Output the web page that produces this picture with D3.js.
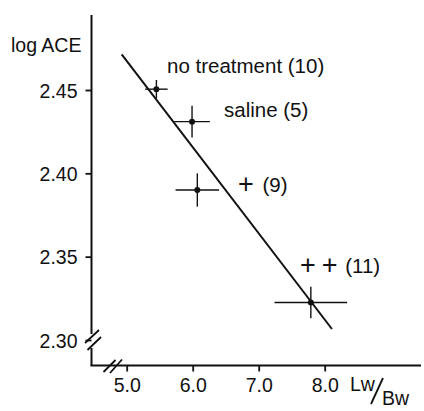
<!DOCTYPE html>
<html>
<head>
<meta charset="utf-8">
<script src="https://cdn.jsdelivr.net/npm/d3@7"></script>
<style>
  html, body { margin: 0; padding: 0; background: #fff; }
  svg { display: block; }
  text { font-family: "Liberation Sans", Arial, sans-serif; fill: #111; }
</style>
</head>
<body>
<div id="chart"></div>
<script>
// ---- data ----
const groups = ["no treatment (10)", "saline (5)", "(9)", "(11)"];
const lwbw = [5.45, 5.99, 6.07, 7.79];
const logACE = [2.4505, 2.431, 2.390, 2.3225];
const lwbwErr = [0.17, 0.27, 0.33, 0.55];
const logACEErr = [0.0055, 0.0095, 0.010, 0.0095];
const lineX = [4.924, 8.11];
const lineY = [2.4714, 2.3066];
const xTicks = [5.0, 6.0, 7.0, 8.0];
const yTicks = [2.30, 2.35, 2.40, 2.45];

const W = 424, H = 411;
const svg = d3.select("#chart").append("svg").attr("width", W).attr("height", H);

const x = d3.scaleLinear().domain([5.0, 8.0]).range([126.7, 324.7]);
const y = d3.scaleLinear().domain([2.30, 2.45]).range([340, 90]);

const axisX = 91.5, axisBottom = 365.5, axisTop = 15;

// y axis line (with break gap)
svg.append("line").attr("x1", axisX).attr("x2", axisX).attr("y1", axisTop).attr("y2", 334)
  .attr("stroke", "#111").attr("stroke-width", 2);
svg.append("line").attr("x1", axisX).attr("x2", axisX).attr("y1", 348).attr("y2", axisBottom)
  .attr("stroke", "#111").attr("stroke-width", 2);
// x axis line
svg.append("line").attr("x1", axisX - 1).attr("x2", 421).attr("y1", axisBottom).attr("y2", axisBottom)
  .attr("stroke", "#111").attr("stroke-width", 2);

// y axis ticks + labels via d3 axis
const yAxis = d3.axisLeft(y).tickValues(yTicks).tickFormat(d3.format(".2f")).tickSize(6).tickPadding(8);
const gy = svg.append("g").attr("transform", `translate(${axisX},0)`).call(yAxis);
gy.select(".domain").remove();
gy.selectAll(".tick line").attr("stroke", "#111").attr("stroke-width", 1.8);
gy.selectAll(".tick text").attr("font-size", 19.5).attr("font-family", "Liberation Sans, Arial, sans-serif")
  .attr("fill", "#111").attr("dy", "0.36em");

const xAxis = d3.axisBottom(x).tickValues(xTicks).tickFormat(d3.format(".1f")).tickSize(6).tickPadding(6);
const gx = svg.append("g").attr("transform", `translate(0,${axisBottom})`).call(xAxis);
gx.select(".domain").remove();
gx.selectAll(".tick line").attr("stroke", "#111").attr("stroke-width", 1.8);
gx.selectAll(".tick text").attr("font-size", 19.5).attr("font-family", "Liberation Sans, Arial, sans-serif")
  .attr("fill", "#111").attr("dy", "0.72em");

// break marks
const brk = svg.append("g").attr("stroke", "#111").attr("stroke-width", 1.8);
[[85, 343, 99, 330], [87.5, 350, 101, 337]].forEach(s =>
  brk.append("line").attr("x1", s[0]).attr("y1", s[1]).attr("x2", s[2]).attr("y2", s[3]));
[[103.5, 372, 115.5, 360], [110, 373, 122, 359.5]].forEach(s =>
  brk.append("line").attr("x1", s[0]).attr("y1", s[1]).attr("x2", s[2]).attr("y2", s[3]));

// regression line
svg.append("line")
  .attr("x1", x(lineX[0])).attr("y1", y(lineY[0]))
  .attr("x2", x(lineX[1])).attr("y2", y(lineY[1]))
  .attr("stroke", "#111").attr("stroke-width", 2);

// error bars and points
const pts = d3.range(lwbw.length).map(i => ({x: lwbw[i], y: logACE[i], ex: lwbwErr[i], ey: logACEErr[i]}));
const g = svg.append("g");
g.selectAll("line.h").data(pts).enter().append("line")
  .attr("x1", d => x(d.x - d.ex)).attr("x2", d => x(d.x + d.ex))
  .attr("y1", d => y(d.y)).attr("y2", d => y(d.y))
  .attr("stroke", "#111").attr("stroke-width", 1.4);
g.selectAll("line.v").data(pts).enter().append("line")
  .attr("x1", d => x(d.x)).attr("x2", d => x(d.x))
  .attr("y1", d => y(d.y - d.ey)).attr("y2", d => y(d.y + d.ey))
  .attr("stroke", "#111").attr("stroke-width", 1.4);
g.selectAll("circle").data(pts).enter().append("circle")
  .attr("cx", d => x(d.x)).attr("cy", d => y(d.y)).attr("r", 3).attr("fill", "#111");

// annotations
svg.append("text").attr("x", 11).attr("y", 52).attr("font-size", 19.5).text("log ACE");
svg.append("text").attr("x", 167).attr("y", 73).attr("font-size", 20.5).text(groups[0]);
svg.append("text").attr("x", 224).attr("y", 117).attr("font-size", 20.5).text(groups[1]);
const t9 = svg.append("text").attr("x", 238).attr("y", 192);
t9.append("tspan").attr("font-size", 27).attr("dy", 1).text("+");
t9.append("tspan").attr("font-size", 20.5).attr("dx", 3).attr("dy", -1).text(" " + groups[2]);
const t11 = svg.append("text").attr("x", 300).attr("y", 273);
t11.append("tspan").attr("font-size", 27).attr("dy", 1).text("+");
t11.append("tspan").attr("font-size", 27).attr("dx", 6).text("+");
t11.append("tspan").attr("font-size", 20.5).attr("dx", 2).attr("dy", -1).text(" " + groups[3]);

svg.append("text").attr("x", 350).attr("y", 391).attr("font-size", 19.5).text("Lw");
svg.append("line").attr("x1", 383).attr("y1", 378).attr("x2", 371).attr("y2", 404)
  .attr("stroke", "#111").attr("stroke-width", 1.8);
svg.append("text").attr("x", 382).attr("y", 405).attr("font-size", 19.5).text("Bw");
</script>
</body>
</html>
